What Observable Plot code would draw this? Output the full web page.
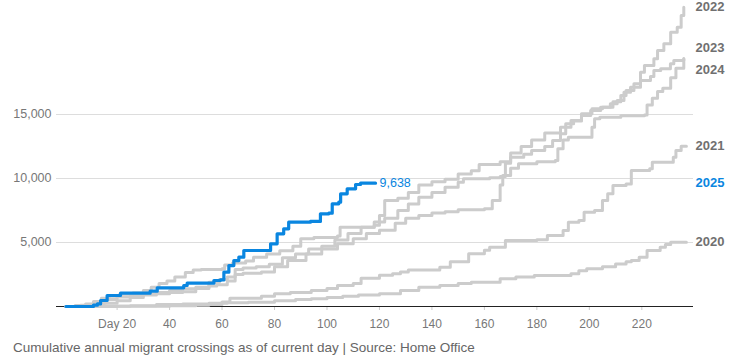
<!DOCTYPE html>
<html>
<head>
<meta charset="utf-8">
<script src="https://cdn.jsdelivr.net/npm/d3@7"></script>
<script src="https://cdn.jsdelivr.net/npm/@observablehq/plot@0.6"></script>
<style>
  body { margin: 0; background: #fff; }
  #chart svg { display: block; }
  .caption { font-family: "Liberation Sans", Arial, sans-serif; font-size: 13.5px; line-height: 16px; color: #666; margin: 3px 0 0 13px; }
</style>
</head>
<body>
<div id="chart"></div>
<div class="caption">Cumulative annual migrant crossings as of current day | Source: Home Office</div>
<script>
// [day of year, cumulative crossings]
const y2020 = [[0.5,0],[10,20],[25,60],[35,150],[45,200],[55,250],[62,300],[70,330],[80,450],[88,550],[94,600],[100,700],[106,800],[112,900],[120,1000],[128,1250],[135,1500],[143,1640],[150,1800],[155,1900],[166,2160],[172,2300],[179,2420],[193,2550],[196,2800],[199,2940],[205,3100],[210,3330],[214,3500],[216,3590],[219,3850],[222,4375],[227,4630],[229,4850],[231,5020],[237,5020]];
const y2021 = [[0.5,0],[20,20],[40,60],[50,100],[55,150],[60,350],[63,650],[75,800],[80,1000],[86,1100],[94,1250],[100,1400],[104,1650],[110,1800],[113,2200],[120,2450],[125,2550],[128,2700],[131,2850],[143,3070],[147,3500],[154,4120],[160,4400],[162,4630],[168,5160],[180,5210],[184,5550],[190,5940],[192,6590],[196,6720],[198,7370],[202,7500],[205,8280],[207,8800],[209,9450],[214,9580],[216,10625],[223,10760],[224,11270],[232,11660],[233,12190],[235,12520],[237,12520]];
const y2022 = [[0.5,0],[6,100],[12,300],[16,550],[20,750],[25,850],[30,1000],[35,1100],[40,1250],[45,1380],[50,1500],[55,1900],[59,2100],[62,2300],[65,2900],[68,3000],[73,3100],[78,3300],[83,3800],[88,4100],[93,4500],[98,4700],[103,5200],[108,5700],[113,6200],[118,6600],[122,6900],[127,7500],[131,8000],[135,8540],[140,8900],[145,9320],[150,9700],[152,9980],[162,10050],[166,10150],[168,11200],[170,11660],[175,11900],[178,12190],[183,12500],[186,12970],[189,13500],[191,14270],[194,14500],[197,15050],[201,15450],[205,15570],[209,16000],[212,16480],[214,16880],[217,17400],[219.5,18300],[221,18830],[224.6,19350],[226,20000],[228.4,20520],[231,21430],[233.5,21820],[235,22730],[236,23380]];
const y2023 = [[0.5,0],[8,50],[15,250],[20,450],[25,700],[30,900],[35,1000],[40,1100],[45,1150],[50,1400],[55,1600],[58,1700],[62,2000],[65,2500],[68,2600],[75,2700],[80,3100],[85,3600],[92,4100],[98,4500],[104,4900],[110,5300],[115,5700],[120,5950],[126,6500],[130,6900],[135,7110],[140,7300],[145,7400],[150,7550],[160,7630],[163,8280],[166,9500],[167,10230],[170,10800],[173,11150],[180,11300],[187,11400],[188,12320],[190,13000],[192,13230],[200,13230],[201,14000],[202,14660],[204,14790],[212,14900],[221,14960],[222,15750],[224,16270],[226,16800],[228,17060],[231,17880],[233,18620],[236,19380]];
const y2024 = [[0.5,0],[4,80],[8,200],[11,400],[14,650],[17,800],[21,950],[26,1050],[30,1250],[33,1500],[36,1800],[39,2000],[42,2300],[46,2650],[49,2850],[52,2900],[60,2950],[61,3250],[64,3400],[69,3550],[72,3850],[77,4100],[82,4350],[87,4700],[90,5300],[95,5400],[104,5500],[105,6200],[118,6350],[120,7100],[122,8280],[127,8450],[131,8900],[135,9500],[140,9750],[145,9950],[150,10350],[155,10600],[158,11100],[166,11300],[170,12000],[174,12500],[178,13000],[183,13550],[189,14000],[193,14530],[197,14920],[200.5,15310],[204.3,15570],[208,15840],[210.6,16090],[213.2,16740],[215.7,17130],[219.5,17660],[223.3,17970],[224.6,18440],[227.2,18570],[230.9,18960],[232.2,19220],[236,19330]];
const y2025 = [[0.5,0],[11,100],[12.5,200],[13.7,470],[16.2,860],[21.3,1040],[31.4,1040],[32.6,1200],[35.3,1460],[45.4,1640],[46.7,1820],[55.6,1820],[56.9,2030],[59.4,2080],[60.7,2680],[62.6,3200],[64.5,3590],[66.4,3850],[68.3,4375],[77.2,4375],[78.5,4900],[81,5680],[83.5,6070],[85.4,6590],[93.7,6650],[97.5,7240],[100.7,7290],[102,8020],[104.5,8150],[105.2,8800],[107.7,9190],[110.9,9530],[112.8,9638],[118.5,9638]];

const years = ["2020", "2021", "2022", "2023", "2024", "2025"];
const seriesValues = [y2020, y2021, y2022, y2023, y2024, y2025];
const highlightYear = "2025";
const yTicks = [5000, 10000, 15000];
const xTicks = [20, 40, 60, 80, 100, 120, 140, 160, 180, 200, 220];

const blue = "#0a86e0";
const grey = "#cccccc";

const rows = years.flatMap((yr, i) => seriesValues[i].map(([day, value]) => ({year: yr, day, value})));
const greyRows = rows.filter(d => d.year !== highlightYear);
const blueRows = rows.filter(d => d.year === highlightYear);
const blueLast = blueRows[blueRows.length - 1];

// end labels with a simple dodge
const labels = years.map((yr, i) => {
  const s = seriesValues[i];
  return {year: yr, value: s[s.length - 1][1]};
}).sort((a, b) => b.value - a.value);
const minGap = 1660;
labels.forEach(l => l.pos = l.value);
for (let k = 0; k < 5; k++) {
  for (let i = 1; i < labels.length; i++) {
    const a = labels[i - 1], b = labels[i];
    if (a.pos - b.pos < minGap) {
      const mid = (a.pos + b.pos) / 2;
      a.pos = mid + minGap / 2;
      b.pos = mid - minGap / 2;
    }
  }
}

const chart = Plot.plot({
  width: 733,
  height: 337,
  marginLeft: 56,
  marginRight: 40,
  marginTop: 0,
  marginBottom: 31,
  style: {fontFamily: `"Liberation Sans", Arial, sans-serif`, background: "white", overflow: "visible"},
  x: {domain: [-3.1, 239.7]},
  y: {domain: [0, 23906]},
  marks: [
    Plot.gridY(yTicks, {stroke: "#dddddd", strokeOpacity: 1, strokeWidth: 1}),
    Plot.axisY(yTicks, {tickSize: 0, tickPadding: 5, tickFormat: d3.format(","), fill: "#777", fontSize: 12.5, label: null}),
    Plot.axisX(xTicks, {tickSize: 4, tickPadding: 9, stroke: "#cccccc", fill: "#777", fontSize: 12, tickFormat: d => d === 20 ? "Day 20" : String(d), label: null}),
    Plot.ruleY([0], {stroke: "#222", strokeWidth: 1.2}),
    Plot.line(greyRows, {x: "day", y: "value", z: "year", stroke: grey, strokeWidth: 3, curve: "step-after", strokeLinejoin: "round"}),
    Plot.line(blueRows, {x: "day", y: "value", stroke: blue, strokeWidth: 3.2, curve: "step-after", strokeLinejoin: "round"}),
    Plot.text([blueLast], {x: "day", y: "value", text: d => d3.format(",")(d.value), dx: 4, textAnchor: "start", fill: blue, fontSize: 12.5}),
    Plot.text(labels, {y: "pos", frameAnchor: "right", dx: 2, textAnchor: "start", text: "year", fill: d => d.year === highlightYear ? blue : "#707070", fontWeight: "bold", fontSize: 13})
  ]
});
document.getElementById("chart").append(chart);
</script>
</body>
</html>
